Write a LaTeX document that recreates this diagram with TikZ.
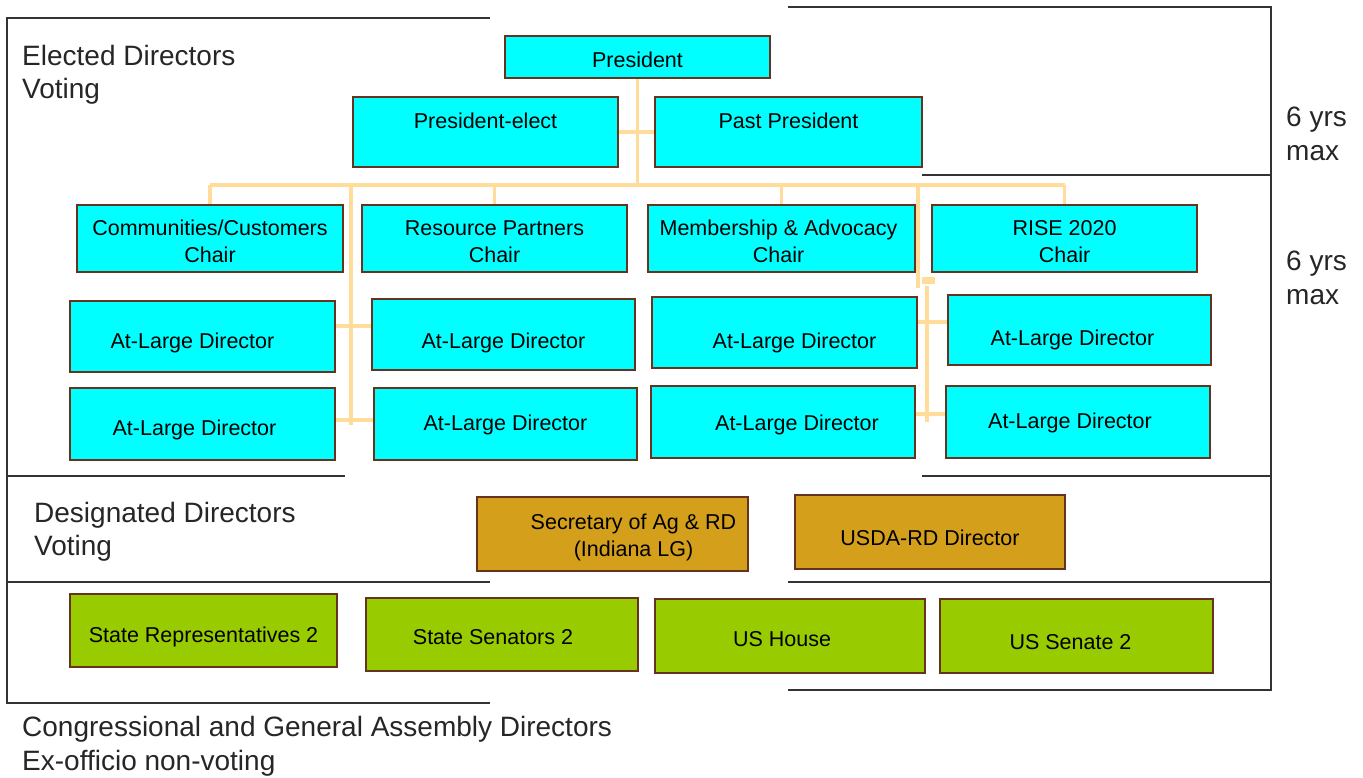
\documentclass[tikz,border=0pt]{standalone}
\usepackage{fontspec}
\setmainfont{Liberation Sans}
\definecolor{boxline}{HTML}{66331F}
\definecolor{cyanf}{HTML}{00FFFF}
\definecolor{tanf}{HTML}{D4A01C}
\definecolor{greenf}{HTML}{99CC00}
\definecolor{connc}{HTML}{FFDC9A}
\definecolor{framec}{HTML}{333333}
\begin{document}
\begin{tikzpicture}[x=1pt,y=-1pt,
  bx/.style={draw=boxline, line width=1.6pt, rectangle, inner sep=0pt},
  cy/.style={bx, fill=cyanf},
  tn/.style={bx, fill=tanf},
  gr/.style={bx, fill=greenf},
  lab/.style={font=\fontsize{21.5}{27}\selectfont, align=center, inner sep=0pt, text=black, yshift=-3pt},
  side/.style={font=\fontsize{28}{33.5}\selectfont, align=left, inner sep=0pt, anchor=north west, text=black!85},
  frame/.style={draw=framec, line width=2pt},
  conn/.style={draw=connc, line width=3.2pt}]
\useasboundingbox (0,0) rectangle (1363,777);

% frame lines
\draw[frame] (490,18) -- (7,18) -- (7,703) -- (490,703);
\draw[frame] (788,7) -- (1271,7) -- (1271,690) -- (788,690);
\draw[frame] (922,175) -- (1271,175);
\draw[frame] (7,476) -- (345,476);
\draw[frame] (922,476) -- (1271,476);
\draw[frame] (7,582) -- (490,582);
\draw[frame] (788,582) -- (1271,582);

% side labels
\node[side] (lElected) at (22,45) {Elected Directors\\Voting};
\node[side] (lDesig) at (34,502) {Designated Directors\\Voting};
\node[side] (lCong) at (22,716) {Congressional and General Assembly Directors\\Ex-officio non-voting};
\node[side] (lSix1) at (1286,107) {6 yrs\\max};
\node[side] (lSix2) at (1286,251) {6 yrs\\max};

% boxes
\node[cy, minimum width=265pt, minimum height=42pt, label={[lab]center:President}] (pres) at (637.5,57) {};
\node[cy, minimum width=265pt, minimum height=70pt, label={[lab,yshift=14pt]center:President-elect}] (pelect) at (485.5,132) {};
\node[cy, minimum width=267pt, minimum height=70pt, label={[lab,yshift=14pt]center:Past President}] (past) at (788.5,132) {};

\node[cy, minimum width=266pt, minimum height=67pt, label={[lab]center:Communities/Customers\\Chair}] (comm) at (210,238.5) {};
\node[cy, minimum width=265pt, minimum height=67pt, label={[lab]center:Resource Partners\\Chair}] (res) at (494.5,238.5) {};
\node[cy, minimum width=267pt, minimum height=67pt, label={[lab,xshift=-3pt]center:Membership \& Advocacy\\Chair}] (mem) at (781.5,238.5) {};
\node[cy, minimum width=265pt, minimum height=67pt, label={[lab]center:RISE 2020\\Chair}] (rise) at (1064.5,238.5) {};

\node[cy, minimum width=265pt, minimum height=71pt, label={[lab,xshift=-10pt,yshift=-3.5pt]center:At-Large Director}] (a1) at (202.5,336.5) {};
\node[cy, minimum width=263pt, minimum height=71pt, label={[lab,yshift=-5.5pt]center:At-Large Director}] (a2) at (503.5,334.5) {};
\node[cy, minimum width=265pt, minimum height=71pt, label={[lab,xshift=10pt,yshift=-7.5pt]center:At-Large Director}] (a3) at (784.5,332.5) {};
\node[cy, minimum width=263pt, minimum height=70pt, label={[lab,xshift=-7pt,yshift=-7pt]center:At-Large Director}] (a4) at (1079.5,330) {};

\node[cy, minimum width=265pt, minimum height=72pt, label={[lab,xshift=-8pt,yshift=-3pt]center:At-Large Director}] (b1) at (202.5,424) {};
\node[cy, minimum width=263pt, minimum height=72pt, label={[lab,yshift=2pt]center:At-Large Director}] (b2) at (505.5,424) {};
\node[cy, minimum width=264pt, minimum height=72pt, label={[lab,xshift=14pt]center:At-Large Director}] (b3) at (783,422) {};
\node[cy, minimum width=264pt, minimum height=72pt, label={[lab,xshift=-8pt,yshift=2pt]center:At-Large Director}] (b4) at (1078,422) {};

\node[tn, minimum width=271pt, minimum height=74pt, label={[lab,xshift=21pt]center:Secretary of Ag \& RD\\(Indiana LG)}] (sec) at (612.5,534) {};
\node[tn, minimum width=270pt, minimum height=74pt, label={[lab,yshift=-3pt]center:USDA-RD Director}] (usda) at (930,532) {};

\node[gr, minimum width=267pt, minimum height=73pt, label={[lab,yshift=-3pt]center:State Representatives 2}] (srep) at (203.5,630.5) {};
\node[gr, minimum width=272pt, minimum height=73pt, label={[lab,xshift=-9pt]center:State Senators 2}] (ssen) at (502,634.5) {};
\node[gr, minimum width=270pt, minimum height=74pt, label={[lab,xshift=-8pt]center:US House}] (ush) at (790,636) {};
\node[gr, minimum width=273pt, minimum height=74pt, label={[lab,xshift=-6pt,yshift=-3pt]center:US Senate 2}] (uss) at (1076.5,636) {};

% connectors
\coordinate (busL) at (210,185);
\coordinate (busR) at (1065,185);
\coordinate (busM) at (637.5,185);
\draw[conn] (pres.south) -- (busM);
\draw[conn] (pelect.east) -- (past.west);
\draw[conn] (busL) -- (busR);
\draw[conn] (comm.north) -- (comm.north |- busL);
\draw[conn] (res.north) -- (res.north |- busL);
\draw[conn] (mem.north) -- (mem.north |- busL);
\draw[conn] (rise.north) -- (rise.north |- busL);

% left trunk
\coordinate (lt1) at (351,185);
\coordinate (lt2) at (351,425);
\coordinate (ls1) at (351,326);
\coordinate (ls2) at (351,420);
\draw[conn] (lt1) -- (lt2);
\draw[conn] (a1.east |- ls1) -- (a2.west |- ls1);
\draw[conn] (b1.east |- ls2) -- (b2.west |- ls2);

% right trunk
\coordinate (rt1) at (918,185);
\coordinate (rt2) at (918,288);
\coordinate (rt3) at (927,286);
\coordinate (rt4) at (927,422);
\coordinate (rs1) at (927,322);
\coordinate (rs2) at (927,414);
\draw[conn] (rt1) -- (rt2);
\fill[connc] (922,277) rectangle (935,284);
\draw[conn] (rt3) -- (rt4);
\draw[conn] (a3.east |- rs1) -- (a4.west |- rs1);
\draw[conn] (b3.east |- rs2) -- (b4.west |- rs2);
\end{tikzpicture}
\end{document}
